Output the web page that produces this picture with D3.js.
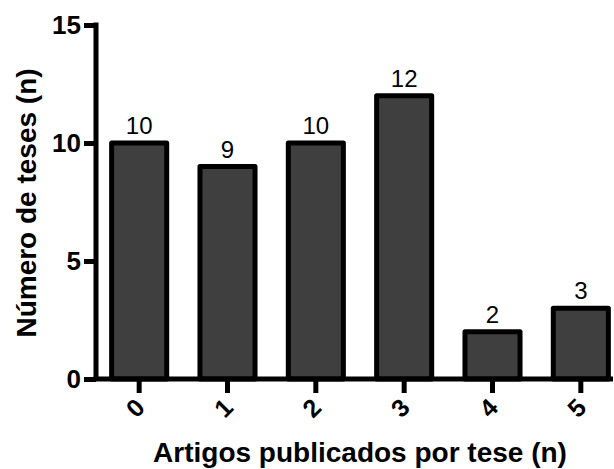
<!DOCTYPE html>
<html><head><meta charset="utf-8">
<script src="https://cdn.jsdelivr.net/npm/d3@7"></script>
<style>body{margin:0;background:#fff}svg{display:block}text{font-family:Arial,"Liberation Sans",sans-serif}</style>
</head><body>
<svg id="c" width="614" height="469"></svg>
<script>
const categories = ["0","1","2","3","4","5"];
const values = [10, 9, 10, 12, 2, 3];
const yTicks = [0, 5, 10, 15];
const xTitle = "Artigos publicados por tese (n)";
const yTitle = "Número de teses (n)";

const svg = d3.select("#c");
const x0 = 96, xEnd = 613, yTop = 25, yBot = 379;
const x = d3.scaleBand().domain(categories).range([95, 625]).paddingInner(0.32).paddingOuter(0.16);
const y = d3.scaleLinear().domain([0, 15]).range([yBot, yTop]);

// bars
svg.selectAll("rect.bar").data(values).join("rect")
  .attr("class","bar")
  .attr("x",(d,i)=>x(categories[i])+2.5)
  .attr("width",x.bandwidth()-5)
  .attr("y",d=>y(d))
  .attr("height",d=>yBot-y(d))
  .attr("fill","#3f3f3f").attr("stroke","#000").attr("stroke-width",5)
  .attr("stroke-linejoin","round");

// value labels
svg.selectAll("text.val").data(values).join("text")
  .attr("class","val")
  .attr("x",(d,i)=>x(categories[i])+x.bandwidth()/2)
  .attr("y",d=>y(d)-9)
  .attr("text-anchor","middle").attr("font-size",24).attr("fill","#000")
  .text(d=>d);

// y axis
const ya = svg.append("g").attr("transform",`translate(${x0},0)`)
  .call(d3.axisLeft(y).tickValues(yTicks).tickSize(12).tickPadding(3).tickSizeOuter(0));
ya.select(".domain").attr("stroke","#000").attr("stroke-width",5).attr("d",`M0,${yTop-2.5}V${yBot}`);
ya.selectAll(".tick line").attr("stroke","#000").attr("stroke-width",5);
ya.selectAll(".tick text").attr("font-size",26).attr("font-weight","bold").attr("fill","#000")
  .attr("font-family","Arial, 'Liberation Sans', sans-serif");

// x axis
const xa = svg.append("g").attr("transform",`translate(0,${yBot})`)
  .call(d3.axisBottom(x).tickSize(14).tickSizeOuter(0));
xa.select(".domain").attr("stroke","#000").attr("stroke-width",5).attr("d",`M${x0-2.5},0H${xEnd}`);
xa.selectAll(".tick line").attr("stroke","#000").attr("stroke-width",5);
xa.selectAll(".tick text")
  .attr("font-size",25).attr("font-weight","bold").attr("fill","#000")
  .attr("font-family","Arial, 'Liberation Sans', sans-serif")
  .attr("text-anchor","middle").attr("y",0).attr("dy","0.35em")
  .attr("transform","translate(-4,29) rotate(-45)");

// titles
svg.append("text").attr("x",360).attr("y",462).attr("text-anchor","middle")
  .attr("font-size",28).attr("font-weight","bold").attr("fill","#000").text(xTitle);
svg.append("text").attr("transform","translate(36,203) rotate(-90)").attr("text-anchor","middle")
  .attr("font-size",28).attr("font-weight","bold").attr("fill","#000").text(yTitle);
</script>
</body></html>
